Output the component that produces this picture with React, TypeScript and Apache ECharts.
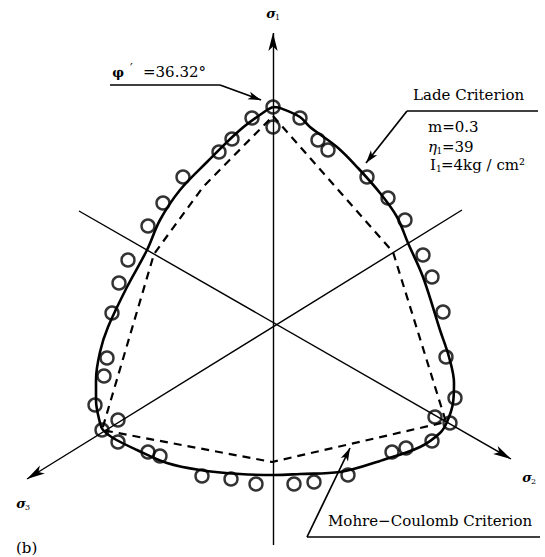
import React, { useEffect, useRef } from "react";
import * as echarts from "echarts";

// Deviatoric (π) plane coordinates: origin on the hydrostatic axis, σ1 pointing up.
// Test results (stress states at failure)
const TEST_POINTS: [number, number][] = [
  [0, 2.16], [0, 1.96],
  [-0.21, 2.05], [-0.41, 1.84], [-0.54, 1.71], [-0.9, 1.46], [-1.1, 1.2],
  [-1.25, 0.97], [-1.45, 0.63], [-1.54, 0.4], [-1.61, 0.1],
  [-1.66, -0.35], [-1.69, -0.53],
  [-1.78, -0.82], [-1.55, -0.97], [-1.71, -1.07], [-1.55, -1.19], [-1.25, -1.29], [-1.13, -1.33],
  [-0.71, -1.53], [-0.42, -1.56], [-0.17, -1.61], [0.21, -1.61], [0.41, -1.59], [0.75, -1.52],
  [1.19, -1.29], [1.33, -1.25], [1.59, -1.18], [1.77, -1.0], [1.62, -0.94], [1.82, -0.75],
  [1.73, -0.34], [1.7, 0.11], [1.59, 0.46], [1.5, 0.68], [1.32, 1.03], [1.15, 1.25],
  [0.94, 1.46], [0.55, 1.73], [0.45, 1.83], [0.27, 2.05],
];

// Lade criterion trace (m = 0.3, η1 = 39, I1 = 4 kg/cm²)
const LADE_CURVE: [number, number][] = [
  [0, 2.16], [0.07, 2.15], [0.27, 2.06], [0.37, 1.96], [0.64, 1.76], [0.85, 1.55],
  [1.07, 1.3], [1.24, 1.06], [1.35, 0.8], [1.5, 0.46], [1.67, -0.07], [1.76, -0.34],
  [1.81, -0.6], [1.8, -0.8], [1.74, -0.99], [1.67, -1.1], [1.47, -1.24], [1.1, -1.37],
  [0.67, -1.49], [0.27, -1.51], [0.02, -1.52], [-0.33, -1.51], [-0.73, -1.47], [-1.06, -1.4],
  [-1.36, -1.27], [-1.6, -1.15], [-1.7, -1.07], [-1.73, -1.0], [-1.77, -0.77], [-1.77, -0.57],
  [-1.73, -0.29], [-1.65, -0.04], [-1.46, 0.36], [-1.26, 0.73], [-1.13, 1.03], [-0.93, 1.33],
  [-0.66, 1.61], [-0.33, 1.93], [-0.06, 2.13], [0, 2.16],
];

// Mohr–Coulomb hexagon, φ' = 36.32°
const MOHR_COULOMB: [number, number][] = [
  [0, 2.07], [1.2, 0.71], [1.73, -0.99], [-0.01, -1.39], [-1.71, -1.07],
  [-1.19, 0.69], [-0.7, 1.36], [0, 2.07],
];

// Projections of the principal stress axes (tail, arrow head)
const PRINCIPAL_AXES: { from: [number, number]; to: [number, number] }[] = [
  { from: [0, -2.22], to: [0, 2.9] },
  { from: [-1.94, 1.12], to: [2.38, -1.36] },
  { from: [1.89, 1.13], to: [-2.46, -1.56] },
];

// Label leaders: underline start, corner, arrow head
const LEADERS: [number, number][][] = [
  [[2.65, 2.12], [1.34, 2.12], [0.93, 1.6]],
  [[-1.63, 2.38], [-0.53, 2.38], [-0.12, 2.23]],
  [[2.67, -2.14], [0.34, -2.14], [0.77, -1.25]],
];

const FONT = "DejaVu Serif";

function txt(x: number, y: number, text: string, extra: Record<string, unknown> = {}) {
  return {
    type: "text",
    x,
    y,
    silent: true,
    style: {
      text,
      fill: "#000",
      fontFamily: FONT,
      fontSize: 15,
      align: "left",
      verticalAlign: "middle",
      textAlign: "left",
      textVerticalAlign: "middle",
      ...extra,
    },
  };
}

export default function App() {
  const ref = useRef<HTMLDivElement>(null);

  useEffect(() => {
    if (!ref.current) return;
    const chart = echarts.init(ref.current, undefined, { renderer: "svg" });

    const axisLines = PRINCIPAL_AXES.map((a) => [
      { coord: a.from, symbol: "none" },
      { coord: a.to, symbol: "arrow", symbolSize: [7, 18] },
    ]);
    const leaderLines: any[] = [];
    LEADERS.forEach((p) => {
      leaderLines.push([
        { coord: p[0], symbol: "none" },
        { coord: p[1], symbol: "none" },
      ]);
      leaderLines.push([
        { coord: p[1], symbol: "none" },
        { coord: p[2], symbol: "arrow", symbolSize: [6, 13] },
      ]);
    });

    const sigma = { fontStyle: "italic", fontWeight: "bold", fontSize: 13, align: "center", textAlign: "center" };
    const sub = { fontSize: 8, align: "center", textAlign: "center" };

    chart.setOption({
      animation: false,
      backgroundColor: "#fff",
      grid: { left: 0, right: 0, top: 0, bottom: 0 },
      xAxis: { type: "value", min: -2.73, max: 2.72, show: false, splitLine: { show: false } },
      yAxis: { type: "value", min: -2.34, max: 3.23, show: false, splitLine: { show: false } },
      series: [
        {
          type: "line",
          data: [],
          silent: true,
          markLine: {
            silent: true,
            animation: false,
            label: { show: false },
            emphasis: { disabled: true },
            lineStyle: { color: "#000", type: "solid", width: 1.4 },
            data: axisLines,
          },
        },
        {
          type: "line",
          data: [],
          silent: true,
          markLine: {
            silent: true,
            animation: false,
            label: { show: false },
            emphasis: { disabled: true },
            lineStyle: { color: "#000", type: "solid", width: 1.7 },
            data: leaderLines,
          },
        },
        {
          name: "Mohr-Coulomb",
          type: "line",
          data: MOHR_COULOMB,
          showSymbol: false,
          silent: true,
          lineStyle: { color: "#000", width: 2.2, type: [8, 6] },
        },
        {
          name: "Lade",
          type: "line",
          data: LADE_CURVE,
          smooth: 0.35,
          showSymbol: false,
          silent: true,
          lineStyle: { color: "#000", width: 2.6 },
        },
        {
          name: "Test",
          type: "scatter",
          data: TEST_POINTS,
          symbol: "circle",
          symbolSize: 13,
          silent: true,
          z: 6,
          itemStyle: { color: "rgba(0,0,0,0)", borderColor: "#000", borderWidth: 2.4 },
        },
      ],
      graphic: [
        txt(271, 13, "σ", sigma),
        txt(277.5, 17, "1", sub),
        txt(527, 477, "σ", sigma),
        txt(533.5, 481, "2", sub),
        txt(21, 503, "σ", sigma),
        txt(27.5, 507, "3", sub),
        txt(118, 72, "φ", { fontWeight: "bold", fontSize: 13, align: "center", textAlign: "center" }),
        txt(130, 69, "′", { fontSize: 12 }),
        txt(143, 72, "=36.32°"),
        txt(413, 95, "Lade Criterion"),
        txt(428, 127, "m=0.3"),
        txt(428, 147, "η", { fontStyle: "italic" }),
        txt(436.5, 151, "1", { fontSize: 9 }),
        txt(442, 147, "=39"),
        txt(430, 165, "I"),
        txt(436, 169, "1", { fontSize: 9 }),
        txt(441, 165, "=4kg / cm²"),
        txt(328, 521, "Mohre−Coulomb Criterion"),
        txt(16, 548, "(b)"),
      ],
    });

    return () => chart.dispose();
  }, []);

  return (
    <div
      ref={ref}
      style={{ position: "fixed", left: 0, top: 0, width: 545, height: 557, background: "#fff" }}
    />
  );
}
